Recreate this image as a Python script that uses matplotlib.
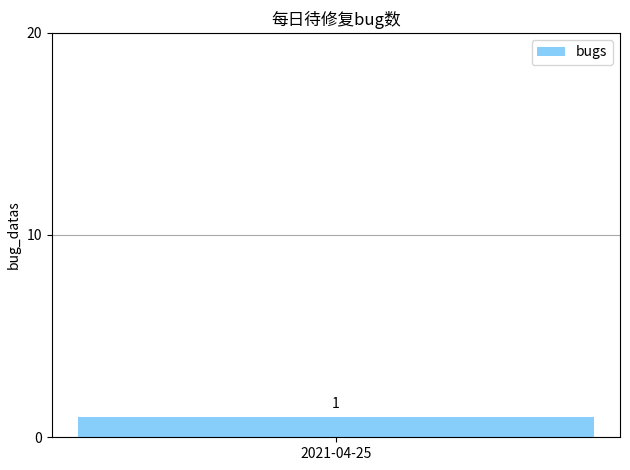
import matplotlib
matplotlib.use('Agg')
import matplotlib.pyplot as plt

plt.rcParams['font.family'] = ['Noto Sans CJK SC', 'DejaVu Sans']
plt.rcParams['axes.unicode_minus'] = False

dates = ['2021-04-25']
bug_datas = [1]

fig, ax = plt.subplots(figsize=(6.3, 4.7), dpi=100)
bars = ax.bar(dates, bug_datas, color='lightskyblue', label='bugs')
for b, v in zip(bars, bug_datas):
    ax.text(b.get_x() + b.get_width() / 2, v + 0.3, str(v), ha='center', va='bottom', fontsize=10)

ax.set_ylim(0, 20)
ax.set_yticks([0, 10, 20])
ax.yaxis.grid(True, color='darkgray', linewidth=0.8)
ax.set_axisbelow(True)
ax.set_ylabel('bug_datas')
ax.set_title('每日待修复bug数')
ax.legend(loc='upper right')

fig.subplots_adjust(left=0.0825, right=0.984, top=0.930, bottom=0.070)
fig.savefig('out.png')
